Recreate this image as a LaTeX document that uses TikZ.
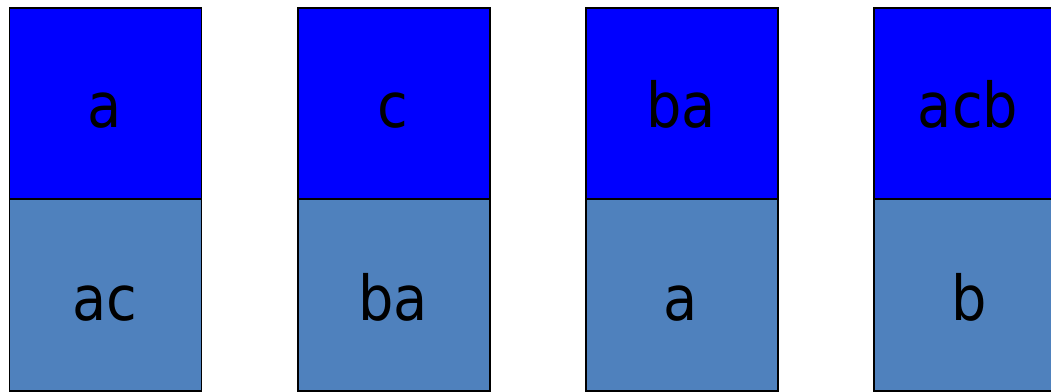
\documentclass[tikz,border=0pt]{standalone}
\usepackage{fontspec}
\setmainfont{DejaVu Sans Condensed}
\definecolor{topblue}{HTML}{0000FF}
\definecolor{lowblue}{HTML}{4F81BD}
\begin{document}
\begin{tikzpicture}[x=1pt,y=1pt,
  cell/.style={draw=black,line width=1.8pt,minimum width=192pt,minimum height=191.5pt,inner sep=0pt,anchor=north west},
  upper/.style={cell,fill=topblue},
  lower/.style={cell,fill=lowblue},
  lbl/.style={inner sep=0pt,anchor=base,font=\fontsize{62}{68}\selectfont}]
\useasboundingbox (0,0) rectangle (1051,391);
\begin{scope}
\clip (0,0) rectangle (1051,391);
\node[upper] (t1) at (8.5,384) {};
\node[lower] (b1) at (8.5,192.5) {};
\node[upper] (t2) at (297,384) {};
\node[lower] (b2) at (297,192.5) {};
\node[upper] (t3) at (585,384) {};
\node[lower] (b3) at (585,192.5) {};
\node[upper] (t4) at (873,384) {};
\node[lower] (b4) at (873,192.5) {};
\node[lbl] (l1) at (104.5,263) {a};
\node[lbl] (m1) at (104.5,71) {ac};
\node[lbl] (l2) at (393,263) {c};
\node[lbl] (m2) at (393,71) {ba};
\node[lbl] (l3) at (681,263) {ba};
\node[lbl] (m3) at (681,71) {a};
\node[lbl] (l4) at (968,263) {acb};
\node[lbl] (m4) at (969,71) {b};
\end{scope}
\end{tikzpicture}
\end{document}
